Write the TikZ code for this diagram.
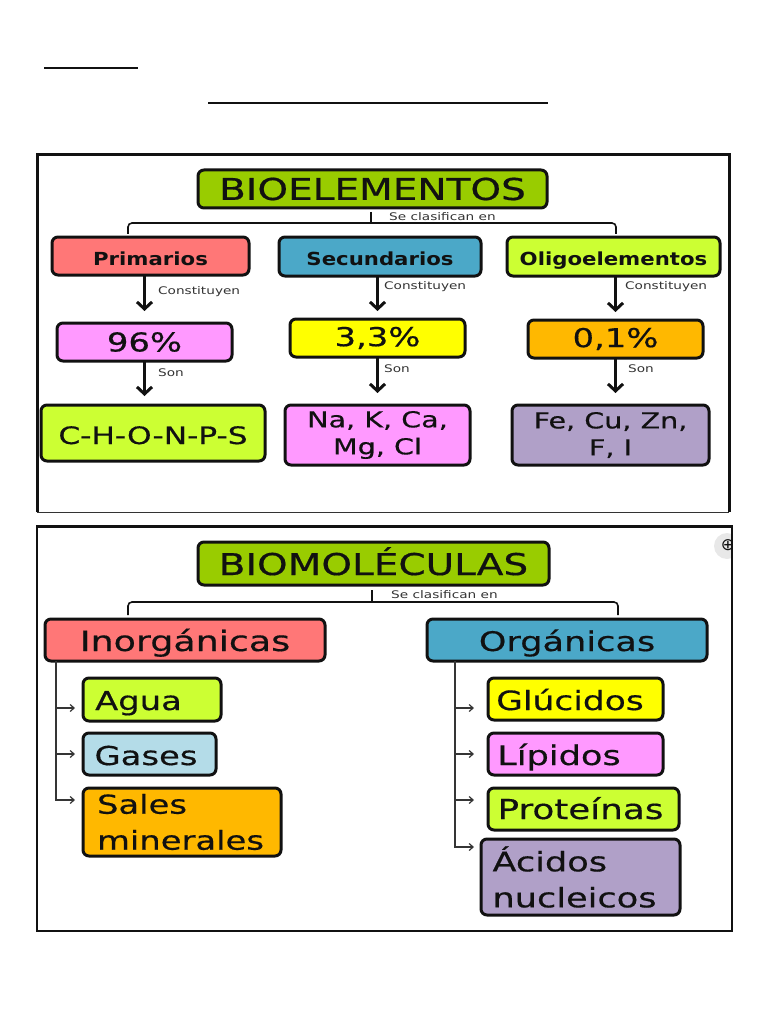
\documentclass[tikz,border=0pt]{standalone}
\usepackage{fontspec}
\setmainfont{DejaVu Sans}
\newfontfamily\wide[FakeStretch=1.3]{DejaVu Sans}
\newfontfamily\widem[FakeStretch=1.3,FakeBold=0.5]{DejaVu Sans}
\newfontfamily\widebold[FakeStretch=1.18]{DejaVu Sans Bold}
\usetikzlibrary{arrows.meta,calc}
\definecolor{ink}{HTML}{111111}
\definecolor{cTitle}{HTML}{99CC00}
\definecolor{cRed}{HTML}{FF7777}
\definecolor{cBlue}{HTML}{4BA8C8}
\definecolor{cLime}{HTML}{CCFF33}
\definecolor{cPink}{HTML}{FF99FF}
\definecolor{cYel}{HTML}{FFFF00}
\definecolor{cOra}{HTML}{FFB800}
\definecolor{cPur}{HTML}{B0A0C8}
\definecolor{cSky}{HTML}{B4DCE8}
\definecolor{cGrey}{HTML}{333333}
\newcommand{\fs}[1]{\widem\fontsize{#1}{#1}\selectfont}
\newcommand{\fl}[2]{\widem\fontsize{#1}{#2}\selectfont}
\newcommand{\fsmall}[1]{\wide\fontsize{#1}{#1}\selectfont}
\newcommand{\bl}[2]{\raisebox{-#1pt}[0pt][0pt]{#2}}
\newcommand{\bx}[9][]{\node[boxnode,fill=#7,minimum width={(#5-#3)*1pt},minimum height={(#6-#4)*1pt},font=#8,#1] (#2) at ({(#3+#5)/2},{(#4+#6)/2}) {#9};}
\tikzset{
  boxnode/.style={draw=ink,line width=3pt,rounded corners=6pt,inner sep=0pt,outer sep=0pt,align=center,text=ink},
  frameline/.style={draw=ink,line width=2pt},
  bigarrow/.style={draw=ink,line width=3pt,-{Straight Barb[length=7pt,width=15pt,line width=3pt]}},
  bus/.style={draw=ink,line width=1.6pt,rounded corners=4pt},
  tree/.style={draw=ink!85,line width=1.3pt,-{Straight Barb[length=4pt,width=7pt,line width=1.2pt]}},
  small/.style={inner sep=0pt,anchor=west,text=cGrey,font=\fsmall{10.5}},
}
\begin{document}
\begin{tikzpicture}[x=1pt,y=-1pt]
\useasboundingbox (0,0) rectangle (768,1024);
\coordinate (r1a) at (44,68); \coordinate (r1b) at (138,68);
\coordinate (r2a) at (208,103); \coordinate (r2b) at (548,103);
\draw[frameline] (r1a) -- (r1b);
\draw[frameline] (r2a) -- (r2b);
% frames
\draw[draw=ink,line width=3pt] (37,512) -- (37,155) -- (729,155) -- (729,512);
\draw[draw=cGrey,line width=1pt] (37,512) -- (729,512);
\begin{scope}
\clip (700,526) rectangle (732,570);
\fill[black!9] (727,546) circle[radius=13];
\node[inner sep=0pt,text=ink,font=\fontsize{17}{17}\selectfont] (zoomicon) at (728,545) {⊕};
\end{scope}
\draw[draw=ink,line width=2pt] (37,526) rectangle (732,931);
\draw[draw=ink,line width=3pt] (37,526) -- (732,526);
% top chart
\bx{bio}{198}{170}{547}{208}{cTitle}{\fs{30}}{BIOELEMENTOS}
\bx{prim}{52}{237}{249}{275}{cRed}{\widebold\fontsize{18}{18}\selectfont}{\bl{9}{Primarios}}
\bx{secu}{279}{237}{481}{276}{cBlue}{\widebold\fontsize{18}{18}\selectfont}{\bl{8.5}{Secundarios}}
\bx{olig}{507}{237}{720}{276}{cLime}{\widebold\fontsize{18}{18}\selectfont}{\bl{8.5}{Oligoelementos}}
\bx{pa}{57}{323}{232}{361}{cPink}{\fs{26}}{96\%}
\bx{pb}{290}{319}{465}{357}{cYel}{\fs{26}}{3,3\%}
\bx{pc}{528}{320}{703}{358}{cOra}{\fs{26}}{0,1\%}
\bx{ea}{41}{405}{265}{461}{cLime}{\fs{24}}{\bl{11}{C-H-O-N-P-S}}
\bx{eb}{285}{405}{470}{465}{cPink}{\fl{22}{27}}{Na, K, Ca,\\Mg, Cl}
\bx{ec}{512}{405}{709}{465}{cPur}{\fl{22}{27}}{Fe, Cu, Zn,\\F, I}
% top bracket
\coordinate (j1) at (371,223);
\coordinate (lt) at (128,234);
\coordinate (rt) at (616,234);
\draw[bus] (lt) |- (j1) -| (rt);
\draw[draw=ink,line width=1.6pt,shorten <=4pt] (bio.south -| j1) -- (j1);
\node[small] (sc1) at (389,217) {Se clasifican en};
% top arrows
\draw[bigarrow,shorten >=12pt] (prim.south -| pa.north) -- (pa.north);
\draw[bigarrow,shorten >=9pt] (pa.south) -- (pa.south |- ea.north);
\draw[bigarrow,shorten >=8pt] (pb.north |- secu.south) -- (pb.north);
\draw[bigarrow,shorten >=12pt] (pb.south) -- (eb.north);
\draw[bigarrow,shorten >=8pt] (pc.north |- olig.south) -- (pc.north);
\draw[bigarrow,shorten >=12pt] (pc.south) -- (pc.south |- ec.north);
\node[small] (ca) at (158,292) {Constituyen};
\node[small] (cb) at (384,287) {Constituyen};
\node[small] (cc) at (625,287) {Constituyen};
\node[small] (sa) at (158,373) {Son};
\node[small] (sb) at (384,369) {Son};
\node[small] (sd) at (628,369) {Son};
% bottom chart
\bx{biom}{198}{542}{549}{585}{cTitle}{\fs{30}}{\bl{11.5}{BIOMOLÉCULAS}}
\bx{inor}{45}{619}{325}{661}{cRed}{\fs{28}}{\bl{11}{Inorgánicas}}
\bx{orga}{427}{619}{707}{661}{cBlue}{\fs{27}}{\bl{11}{Orgánicas}}
\bx{agua}{83}{678}{221}{721}{cLime}{\fs{26}}{\bl{10.5}{Agua\hspace*{27pt}}}
\bx{gase}{83}{733}{216}{775}{cSky}{\fs{26}}{\bl{11}{Gases\hspace*{7pt}}}
\bx[align=left]{sale}{83}{788}{281}{856}{cOra}{\fl{26}{36}}{Sales\\minerales\hspace*{3pt}}
\bx{gluc}{488}{678}{663}{720}{cYel}{\fs{26.5}}{\bl{11}{Glúcidos\hspace*{11pt}}}
\bx{lipi}{488}{733}{663}{775}{cPink}{\fs{27}}{\bl{11}{Lípidos\hspace*{33pt}}}
\bx{prot}{488}{788}{679}{830}{cLime}{\fs{27.5}}{\bl{10}{Proteínas\hspace*{6pt}}}
\bx[align=left]{acid}{481}{839}{680}{915}{cPur}{\fl{27}{36}}{Ácidos\\nucleicos\hspace*{12pt}}
% bottom bracket
\coordinate (j2) at (372,602);
\coordinate (lb) at (128,615);
\coordinate (rb) at (618,615);
\draw[bus] (lb) |- (j2) -| (rb);
\draw[draw=ink,line width=1.6pt,shorten <=5pt] (biom.south -| j2) -- (j2);
\node[small] (sc2) at (391,595) {Se clasifican en};
% side trees
\coordinate (ti) at (56,661);
\coordinate (to) at (455,661);
\draw[tree,shorten >=8pt] (ti) |- ([yshift=-8.5pt]agua.west);
\draw[tree,shorten >=8pt] (ti) |- ([yshift=0pt]gase.west);
\draw[tree,shorten >=8pt] (ti) |- ([yshift=22pt]sale.west);
\draw[tree,shorten >=14pt] (to) |- ([yshift=-9pt]gluc.west);
\draw[tree,shorten >=14pt] (to) |- ([yshift=0pt]lipi.west);
\draw[tree,shorten >=14pt] (to) |- ([yshift=9pt]prot.west);
\draw[tree,shorten >=7pt] (to) |- ([yshift=30pt]acid.west);
\end{tikzpicture}
\end{document}
